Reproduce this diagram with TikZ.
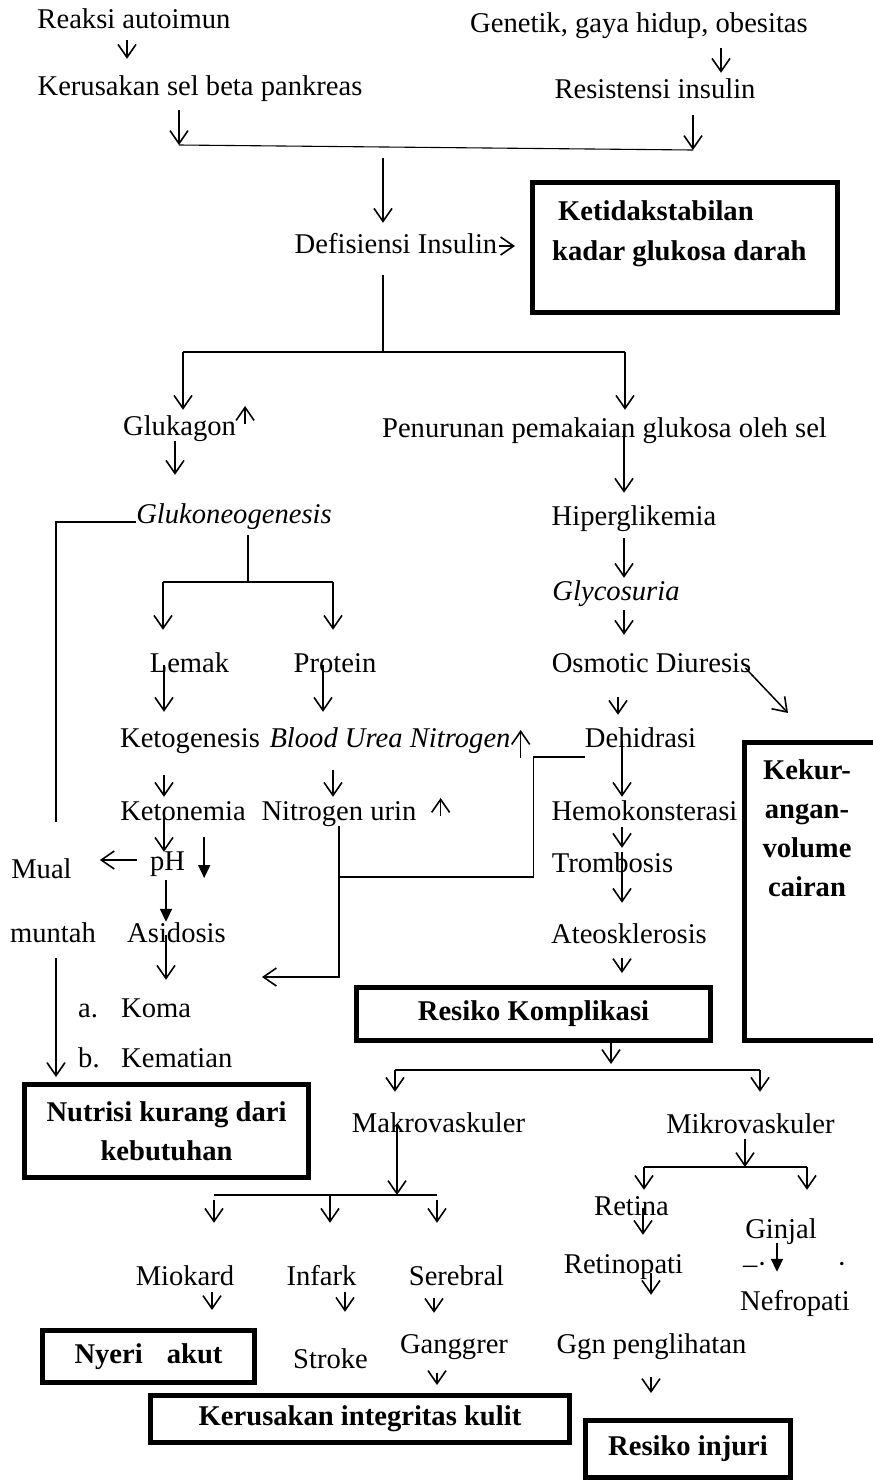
\documentclass[tikz,border=0pt]{standalone}
\usepackage{fontspec}
\setmainfont{Liberation Serif}
\usetikzlibrary{arrows.meta}
\newcommand\basefont{\fontsize{28.6}{39}\selectfont}

\begin{document}
\begin{tikzpicture}[x=1pt, y=-1pt, font=\basefont,
  txt/.style={inner sep=0pt, text height=20pt, text depth=6pt},
  itxt/.style={txt, font=\basefont\itshape},
  btxt/.style={txt, font=\basefont\bfseries},
  bbox/.style={draw, line width=5pt, inner sep=0pt, align=center, font=\basefont\bfseries},
  arr/.style={line width=1.5pt, -{Straight Barb[length=13pt,width=18pt,line width=1.6pt]}},
  farr/.style={line width=1.8pt, -{Triangle[length=13pt,width=12pt]}},
  ln/.style={line width=1.1pt}]
\useasboundingbox (0,0) rectangle (873,1481);

% sebab
\node[txt] (rea) at (134,21) {Reaksi autoimun};
\node[txt] (gen) at (639,25) {Genetik, gaya hidup, obesitas};
\node[txt] (ker) at (200,88) {Kerusakan sel beta pankreas};
\node[txt] (res) at (655,91) {Resistensi insulin};
\draw[arr, shorten <=6pt, shorten >=16pt] (rea.south -| 127,0) -- (ker.north -| 127,0);
\draw[arr, shorten <=10pt, shorten >=5pt] (gen.south -| 721,0) -- (res.north -| 721,0);

\coordinate (j1) at (179,145);
\coordinate (j2) at (693,150);
\coordinate (jm) at (383,148);
\draw[arr, shorten <=9pt] (ker.south -| j1) -- (j1);
\draw[arr, shorten <=11pt] (res.south -| j2) -- (j2);
\draw[ln] (j1) -- (j2);

\node[txt] (defi) at (396,246) {Defisiensi Insulin};
\draw[arr, shorten <=10pt, shorten >=10pt] (jm) -- (defi.north -| jm);
\node[bbox, minimum width=305pt, minimum height=130pt] (kds) at (685,247.5) {};
\node[btxt, anchor=west] (kdsa) at (558,213) {Ketidakstabilan};
\node[btxt, anchor=west] (kdsb) at (552,253) {kadar glukosa darah};
\draw[arr, shorten <=2pt, shorten >=15pt] (defi.east) -- (defi.east -| kds.west);

% cabang
\coordinate (s1) at (383,352);
\coordinate (sl) at (183,352);
\coordinate (sr) at (625,352);
\draw[ln, shorten <=16pt] (defi.south -| s1) -- (s1);
\draw[ln] (sl) -- (sr);

\node[txt] (gluk) at (179.5,428) {Glukagon};
\node[txt] (pen) at (604.5,430) {Penurunan pemakaian glukosa oleh sel};
\draw[arr, shorten >=5pt] (sl) -- (gluk.north -| sl);
\draw[arr, shorten >=7pt] (sr) -- (pen.north -| sr);
\draw[arr] ([xshift=9pt,yshift=4pt]gluk.east) -- ([xshift=9pt,yshift=22pt]gluk.east);

\node[itxt] (gneo) at (234,516) {Glukoneogenesis};
\node[txt] (hip) at (634,518) {Hiperglikemia};
\node[itxt] (gly) at (616,593) {Glycosuria};
\draw[arr, shorten >=28pt] (gluk.south -| 175,0) -- (gneo.north -| 175,0);
\draw[arr, shorten >=12pt] (pen.center -| 624,0) -- (hip.north -| 624,0);
\draw[arr, shorten <=7pt, shorten >=2pt] (hip.south -| 624,0) -- (gly.north -| 624,0);

\coordinate (g1) at (248,582);
\coordinate (gl) at (163,582);
\coordinate (gr) at (333,582);
\draw[ln, shorten <=6pt] (gneo.south -| g1) -- (g1);
\draw[ln] (gl) -- (gr);

\node[txt] (lem) at (189.5,665) {Lemak};
\node[txt] (pro) at (335,665) {Protein};
\node[txt] (osm) at (651.5,665) {Osmotic Diuresis};
\draw[arr, shorten >=22pt] (gl) -- (lem.north -| gl);
\draw[arr, shorten >=22pt] (gr) -- (pro.north -| gr);
\draw[arr, shorten <=4pt, shorten >=17pt] (gly.south -| 624,0) -- (osm.north -| 624,0);

\node[txt] (keto) at (190,740) {Ketogenesis};
\node[itxt] (bun) at (390,740) {Blood Urea Nitrogen};
\node[txt] (deh) at (640.5,740) {Dehidrasi};
\draw[arr, shorten >=15pt] (lem.center -| 164,0) -- (keto.north -| 164,0);
\draw[arr, shorten >=15pt] (pro.center -| 323,0) -- (bun.north -| 323,0);
\draw[arr, shorten <=19pt, shorten >=12pt] (osm.south -| 618,0) -- (deh.north -| 618,0);
\draw[arr] ([xshift=10pt,yshift=-18pt]bun.east) -- ([xshift=10pt,yshift=10pt]bun.east);

\node[bbox, minimum width=131.5pt, minimum height=298pt] (kv) at (810.25,891.5) {};
\node[font=\basefont\bfseries, align=center, anchor=north, inner sep=0pt] (kvt) at (807,759) {Kekur-\\angan-\\volume\\cairan};
\draw[arr] ([xshift=-6pt,yshift=-3pt]osm.east) -- ([xshift=46pt,yshift=27pt]kv.north west);

\node[txt] (ketn) at (183,813) {Ketonemia};
\node[txt] (nur) at (339,813) {Nitrogen urin};
\node[txt] (hem) at (644.5,813) {Hemokonsterasi};
\draw[arr, shorten <=22pt, shorten >=3pt] (keto.south -| 164,0) -- (ketn.north -| 164,0);
\draw[arr, shorten <=17pt, shorten >=3pt] (bun.south -| 333,0) -- (nur.north -| 333,0);
\draw[arr, shorten >=3pt] (deh.center -| 622,0) -- (hem.north -| 622,0);
\draw[arr] ([xshift=24pt,yshift=-3pt]nur.east) -- ([xshift=24pt,yshift=15pt]nur.east);

% kiri: mual muntah
\node[txt] (mual) at (41.5,871) {Mual};
\node[txt] (mun) at (53,935) {muntah};
\node[txt] (ph) at (167.5,863) {pH};
\node[txt] (asi) at (176.5,935) {Asidosis};
\node[txt, anchor=west] (koma) at (78,1010) {\makebox[43pt][l]{a.}Koma};
\node[txt, anchor=west] (kem) at (78,1060) {\makebox[43pt][l]{b.}Kematian};
\draw[arr, shorten <=4pt, shorten >=-2pt] (ketn.center -| 164,0) -- (ph.north -| 164,0);
\draw[farr] ([xshift=19pt,yshift=26pt]ph.east) -- ([xshift=19pt,yshift=-15pt]ph.east);
\draw[arr, shorten <=13pt, shorten >=28pt] ([yshift=3pt]ph.west) -- ([yshift=3pt]ph.west -| mual.east);
\draw[farr, shorten <=4pt] (ph.south -| 166,0) -- (asi.north -| 166,0);
\draw[arr, shorten >=17pt] (asi.center -| 166,0) -- (koma.north -| 166,0);

\node[bbox, minimum width=284pt, minimum height=93pt] (nut) at (166.5,1131) {Nutrisi kurang dari\\kebutuhan};
\draw[ln, shorten >=36pt] ([yshift=-6pt]gneo.west) -| (mual.north -| 56,0);
\draw[arr, shorten <=10pt, shorten >=5pt] (mun.south -| 56,0) -- (nut.north -| 56,0);

% nitrogen urin dan dehidrasi
\coordinate (nj) at (338,877);
\coordinate (nt) at (262,977);
\draw[ln] ([yshift=-17pt]deh.west) -- ++(-51,0) |- (nj);
\draw[arr] (nur.south) |- (nt);

% kanan bawah
\node[txt] (trom) at (612.5,865) {Trombosis};
\node[txt] (ateo) at (629,936) {Ateosklerosis};
\draw[arr, shorten <=1pt, shorten >=4pt] (hem.south -| 622,0) -- (trom.north -| 622,0);
\draw[arr, shorten >=20pt] (trom.north -| 622,0) -- (ateo.north -| 622,0);

\node[bbox, minimum width=354pt, minimum height=53pt] (rk) at (533.5,1014) {Resiko Komplikasi};
\draw[arr, shorten <=9pt, shorten >=12pt] (ateo.south -| 622,0) -- (rk.north -| 622,0);

\coordinate (mj) at (611,1070);
\coordinate (ml) at (395,1070);
\coordinate (mr) at (760,1070);
\draw[arr, shorten >=6pt] (rk.south -| mj) -- (mj);
\draw[ln] (ml) -- (mr);

\node[txt] (mak) at (438.5,1125) {Makrovaskuler};
\node[txt] (mik) at (750.5,1126) {Mikrovaskuler};
\draw[arr, shorten >=20pt] (ml) -- (mak.north -| ml);
\draw[arr, shorten >=21pt] (mr) -- (mik.north -| mr);

% makrovaskuler
\coordinate (kj) at (397,1195);
\coordinate (kl) at (214,1195);
\coordinate (kr) at (437,1195);
\draw[arr] (mak.center -| kj) -- (kj);
\draw[ln] (kl) -- (kr);

\node[txt] (mio) at (185,1278) {Miokard};
\node[txt] (inf) at (321.5,1278) {Infark};
\node[txt] (ser) at (456.5,1278) {Serebral};
\draw[arr, shorten <=5pt, shorten >=42pt] (kl) -- (mio.north -| kl);
\draw[arr, shorten >=42pt] (kj -| 330,0) -- (inf.north -| 330,0);
\draw[arr, shorten <=5pt, shorten >=42pt] (kr) -- (ser.north -| kr);

\node[bbox, minimum width=212pt, minimum height=52pt] (nye) at (148.5,1356.5) {Nyeri\hspace{24pt}akut};
\node[txt] (str) at (330.5,1361) {Stroke};
\node[txt] (gan) at (454,1346) {Ganggrer};
\draw[arr, shorten <=1pt, shorten >=18pt] (mio.south -| 212,0) -- (nye.north -| 212,0);
\draw[arr, shorten <=1pt, shorten >=36pt] (inf.south -| 345,0) -- (str.north -| 345,0);
\draw[arr, shorten <=7pt, shorten >=20pt] (ser.south -| 434,0) -- (gan.north -| 434,0);

% mikrovaskuler
\coordinate (ij) at (745,1167);
\coordinate (il) at (644,1167);
\coordinate (ir) at (807,1167);
\draw[arr] (mik.south -| ij) -- (ij);
\draw[ln] (il) -- (ir);

\node[txt] (ret) at (631.5,1208) {Retina};
\node[txt] (gin) at (781,1231) {Ginjal};
\draw[arr, shorten >=5pt] (il) -- (ret.north -| il);
\draw[arr, shorten >=28pt] (ir) -- (gin.north -| ir);

\node[txt] (retp) at (623.5,1266) {Retinopati};
\node[txt] (nef) at (795,1303) {Nefropati};
\node[txt] (tnd1) at (755,1266) {–·};
\node[txt] (tnd2) at (842,1266) {·};
\draw[arr, shorten >=18pt] (ret.center -| 643,0) -- (retp.north -| 643,0);
\draw[farr, shorten <=12pt, shorten >=18pt] (gin.center -| 777,0) -- (nef.north -| 777,0);

\node[txt] (ggn) at (651.5,1346) {Ggn penglihatan};
\draw[arr, shorten <=7pt, shorten >=38pt] (retp.center -| 651,0) -- (ggn.north -| 651,0);

\node[bbox, minimum width=419pt, minimum height=47pt] (kik) at (360,1419) {Kerusakan integritas kulit};
\node[bbox, minimum width=205pt, minimum height=57pt] (inj) at (688,1449) {Resiko injuri};
\draw[arr, shorten <=14pt, shorten >=8pt] (gan.south -| 437,0) -- (kik.north -| 437,0);
\draw[arr, shorten <=18pt, shorten >=25pt] (ggn.south -| 651,0) -- (inj.north -| 651,0);
\end{tikzpicture}
\end{document}
